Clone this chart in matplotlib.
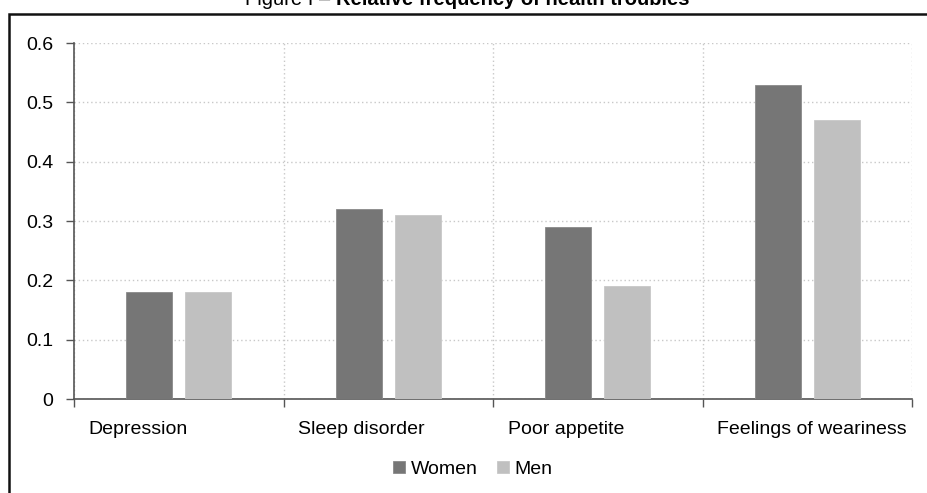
import numpy as np
import matplotlib
matplotlib.use('Agg')
import matplotlib.pyplot as plt
from matplotlib.patches import Rectangle

plt.rcParams['font.family'] = ['Liberation Sans', 'DejaVu Sans']

categories = ['Depression', 'Sleep disorder', 'Poor appetite', 'Feelings of weariness']
women = [0.18, 0.32, 0.29, 0.53]
men = [0.18, 0.31, 0.19, 0.47]
yticks = [0, 0.1, 0.2, 0.3, 0.4, 0.5, 0.6]
ytick_labels = ['0', '0.1', '0.2', '0.3', '0.4', '0.5', '0.6']

W, H = 927, 493
fig = plt.figure(figsize=(W / 100, H / 100), dpi=100)
ax = fig.add_axes([74 / W, 1 - 399 / H, (912 - 74) / W, (399 - 43) / H])

x = np.arange(len(categories))
bw = 0.22
ax.bar(x - 0.14, women, bw, color='#767676', edgecolor='#8a8a8a', linewidth=0.6, label='Women', zorder=3)
ax.bar(x + 0.14, men, bw, color='#c0c0c0', edgecolor='#c8c8c8', linewidth=0.6, label='Men', zorder=3)

ax.set_xlim(-0.5, len(categories) - 0.5)
ax.set_ylim(0, 0.6)
ax.set_yticks(yticks)
ax.set_yticklabels(ytick_labels, fontsize=14)

# boundaries between categories carry the tick marks and vertical grid
bounds = np.arange(len(categories) + 1) - 0.5
ax.set_xticks(bounds, minor=True)
ax.set_xticks(x - 0.5 + 0.07)
ax.set_xticklabels(categories, fontsize=14, ha='left')
ax.tick_params(axis='x', which='major', length=0, pad=16)
ax.tick_params(axis='x', which='minor', length=6, direction='out', color='#555555', width=1)
ax.tick_params(axis='y', length=6, direction='out', color='#555555', width=1, pad=9)

ax.grid(axis='y', which='major', linestyle=(0, (1, 2)), color='#c8c8c8', linewidth=1, zorder=0)
ax.grid(axis='x', which='minor', linestyle=(0, (1, 2)), color='#c8c8c8', linewidth=1, zorder=0)
for s in ['top', 'right']:
    ax.spines[s].set_visible(False)
for s in ['left', 'bottom']:
    ax.spines[s].set_color('#555555')
    ax.spines[s].set_linewidth(1.2)

ax.legend(loc='upper center', bbox_to_anchor=(0.476, -0.125), ncol=2, frameon=False,
          fontsize=14, handlelength=0.6, handleheight=0.6, handletextpad=0.3,
          columnspacing=1.0)

# outer frame, clipped by the picture edges
fig.patches.append(Rectangle((9 / W, -0.5), 2, 1.5 - 14 / H, transform=fig.transFigure,
                             fill=False, edgecolor='#111111', linewidth=1.8))

fig.text(336 / W, 1 - 5 / H, 'Figure I \u2013 ', ha='right', va='baseline', fontsize=14.5)
fig.text(336 / W, 1 - 5 / H, 'Relative frequency of health troubles', ha='left',
         va='baseline', fontsize=14.5, fontweight='bold')

fig.savefig('out.png', dpi=100)
